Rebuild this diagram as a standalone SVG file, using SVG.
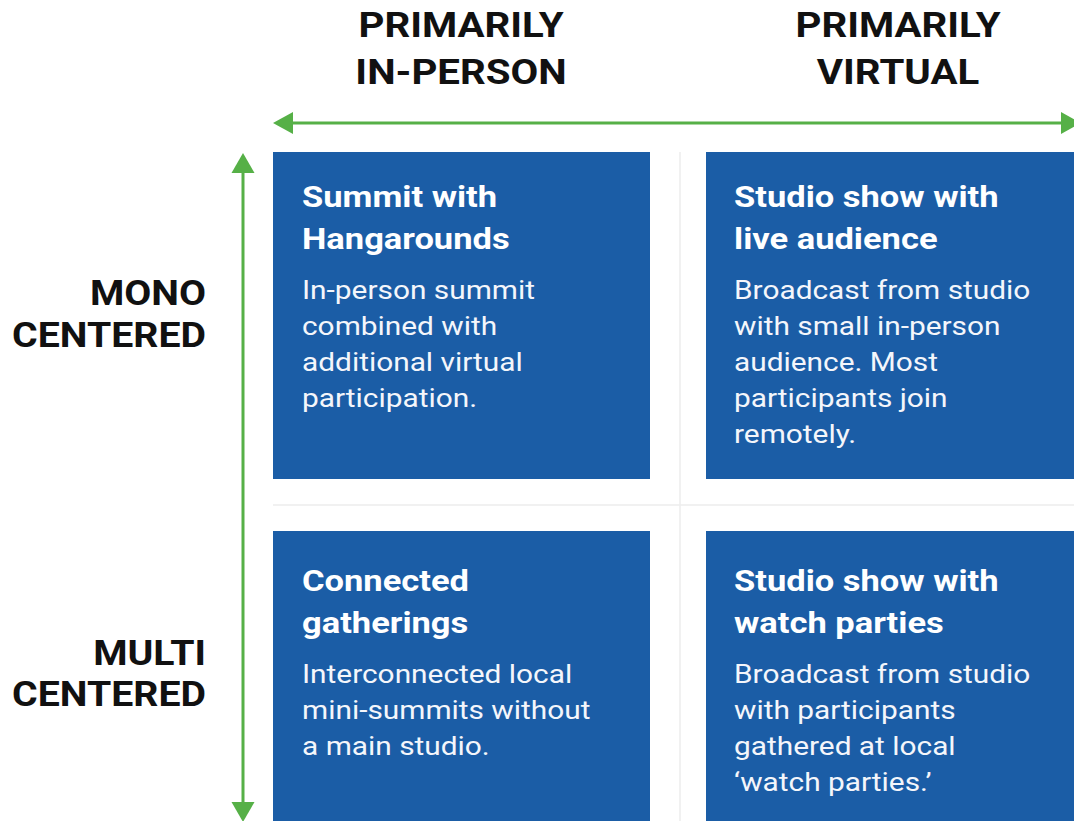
<svg xmlns="http://www.w3.org/2000/svg" width="1074" height="821" viewBox="0 0 1074 821">
  <style>
    .bg { fill: #ffffff; }
    .card { fill: #1b5da6; }
    .rule { stroke: #ececec; stroke-width: 1.5; fill: none; }
    .axis { stroke: #56b047; stroke-width: 3; fill: none; }
    .head { fill: #56b047; }
    .hdr { font-family: Roboto, "Liberation Sans", sans-serif; font-weight: 700; font-size: 35px; fill: #111111; }
    .side { font-family: Roboto, "Liberation Sans", sans-serif; font-weight: 700; font-size: 36px; fill: #111111; text-anchor: end; }
    .title { font-family: Roboto, "Liberation Sans", sans-serif; font-weight: 700; font-size: 30px; fill: #ffffff; }
    .body { font-family: Roboto, "Liberation Sans", sans-serif; font-weight: 400; font-size: 25.5px; fill: #f4f6fb; }
    .mid { text-anchor: middle; }
  </style>

  <rect class="bg" x="0" y="0" width="1074" height="821"/>

  <!-- faint grid lines separating the quadrants -->
  <g id="grid">
    <line class="rule" x1="680" y1="152" x2="680" y2="821"/>
    <line class="rule" x1="273" y1="505" x2="1074" y2="505"/>
  </g>

  <!-- axes -->
  <g id="connectors">
    <line class="axis" x1="290" y1="123" x2="1064" y2="123"/>
    <polygon class="head" points="273,123 293,112 293,134"/>
    <polygon class="head" points="1081,123 1061,112 1061,134"/>
    <line class="axis" x1="243" y1="168" x2="243" y2="806"/>
    <polygon class="head" points="243,153 231.5,173 254.5,173"/>
    <polygon class="head" points="243,822 231.5,802 254.5,802"/>
  </g>

  <!-- column headings -->
  <g id="col-in-person">
    <text class="hdr mid" transform="translate(461 37) scale(1.15 1)">PRIMARILY</text>
    <text class="hdr mid" transform="translate(461 84) scale(1.15 1)">IN-PERSON</text>
  </g>
  <g id="col-virtual">
    <text class="hdr mid" transform="translate(898 37) scale(1.15 1)">PRIMARILY</text>
    <text class="hdr mid" transform="translate(898 84) scale(1.15 1)">VIRTUAL</text>
  </g>

  <!-- row headings -->
  <g id="row-mono">
    <text class="side" transform="translate(206 305) scale(1.09 1)">MONO</text>
    <text class="side" transform="translate(206 347) scale(1.09 1)">CENTERED</text>
  </g>
  <g id="row-multi">
    <text class="side" transform="translate(206 665) scale(1.09 1)">MULTI</text>
    <text class="side" transform="translate(206 706) scale(1.09 1)">CENTERED</text>
  </g>

  <!-- quadrant cards -->
  <g id="summit-hangarounds">
    <rect class="card" x="273" y="152" width="377" height="327"/>
    <text class="title" transform="translate(302 207) scale(1.15 1)">Summit with</text>
    <text class="title" transform="translate(302 249) scale(1.15 1)">Hangarounds</text>
    <text class="body" transform="translate(302 299) scale(1.17 1)">In-person summit</text>
    <text class="body" transform="translate(302 335) scale(1.17 1)">combined with</text>
    <text class="body" transform="translate(302 371) scale(1.17 1)">additional virtual</text>
    <text class="body" transform="translate(302 407) scale(1.17 1)">participation.</text>
  </g>

  <g id="studio-live-audience">
    <rect class="card" x="706" y="152" width="368" height="327"/>
    <text class="title" transform="translate(734 207) scale(1.15 1)">Studio show with</text>
    <text class="title" transform="translate(734 249) scale(1.15 1)">live audience</text>
    <text class="body" transform="translate(734 299) scale(1.17 1)">Broadcast from studio</text>
    <text class="body" transform="translate(734 335) scale(1.17 1)">with small in-person</text>
    <text class="body" transform="translate(734 371) scale(1.17 1)">audience. Most</text>
    <text class="body" transform="translate(734 407) scale(1.17 1)">participants join</text>
    <text class="body" transform="translate(734 443) scale(1.17 1)">remotely.</text>
  </g>

  <g id="connected-gatherings">
    <rect class="card" x="273" y="531" width="377" height="290"/>
    <text class="title" transform="translate(302 591) scale(1.15 1)">Connected</text>
    <text class="title" transform="translate(302 633) scale(1.15 1)">gatherings</text>
    <text class="body" transform="translate(302 683) scale(1.17 1)">Interconnected local</text>
    <text class="body" transform="translate(302 719) scale(1.17 1)">mini-summits without</text>
    <text class="body" transform="translate(302 755) scale(1.17 1)">a main studio.</text>
  </g>

  <g id="studio-watch-parties">
    <rect class="card" x="706" y="531" width="368" height="290"/>
    <text class="title" transform="translate(734 591) scale(1.15 1)">Studio show with</text>
    <text class="title" transform="translate(734 633) scale(1.15 1)">watch parties</text>
    <text class="body" transform="translate(734 683) scale(1.17 1)">Broadcast from studio</text>
    <text class="body" transform="translate(734 719) scale(1.17 1)">with participants</text>
    <text class="body" transform="translate(734 755) scale(1.17 1)">gathered at local</text>
    <text class="body" transform="translate(734 791) scale(1.17 1)">‘watch parties.’</text>
  </g>
</svg>
